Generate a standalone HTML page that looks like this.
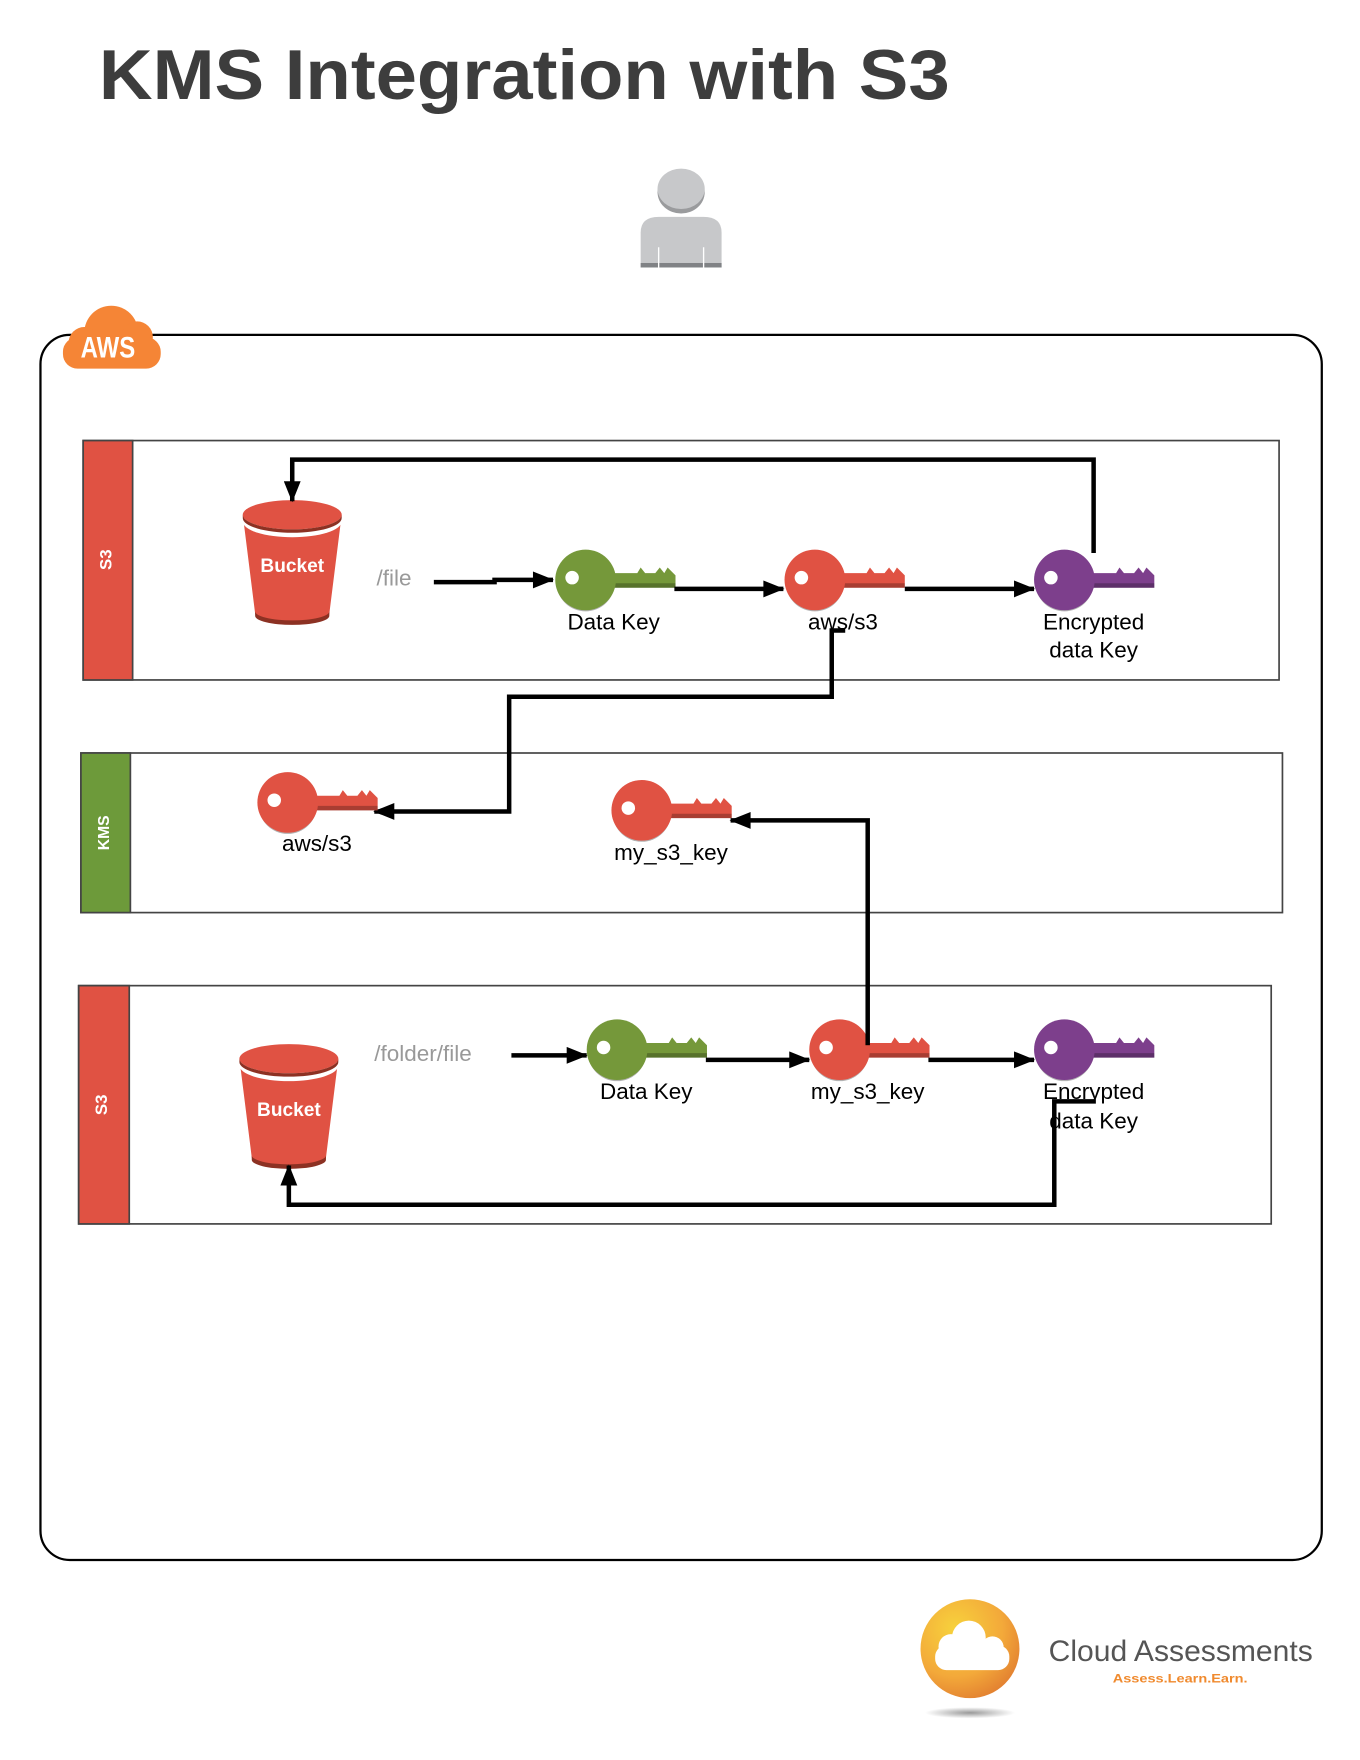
<!DOCTYPE html>
<html><head><meta charset="utf-8"><style>
html,body{margin:0;padding:0;background:#fff}
svg{display:block}
text{font-family:"Liberation Sans",sans-serif}
</style></head><body>
<svg width="1360" height="1760" viewBox="0 0 1210 1566" preserveAspectRatio="none" xmlns="http://www.w3.org/2000/svg">
<defs>
<marker id="ar" viewBox="0 0 20 16" refX="19" refY="8" markerWidth="20" markerHeight="15" orient="auto" markerUnits="userSpaceOnUse">
<path d="M0,0 L20,8 L0,16 z" fill="#000"/>
</marker>
<radialGradient id="lg" cx="0.35" cy="0.3" r="0.8"><stop offset="0" stop-color="#f7d23c"/><stop offset="0.6" stop-color="#f3a93a"/><stop offset="1" stop-color="#e07a2f"/></radialGradient>
<radialGradient id="sh" cx="0.5" cy="0.5" r="0.5"><stop offset="0" stop-color="#999"/><stop offset="1" stop-color="#fff"/></radialGradient>
<g id="keyshape">
<path d="M14,-6 L46,-6 L49,-11 L53,-6 L62,-6 L66,-11 L70,-6 L73,-11 L80,-4 L80,7 L14,7 z"/>
<path d="M20,3 L80,3 L80,7 L20,7 z" fill="#000" opacity="0.25"/>
<circle cx="0" cy="2" r="26" opacity="0.3" fill="#000"/>
</g>
</defs>

<text x="88" y="88" font-size="63" font-weight="bold" fill="#3d3d3d" textLength="757" lengthAdjust="spacingAndGlyphs">KMS Integration with S3</text>

<!-- user -->
<ellipse cx="606" cy="171" rx="21" ry="19" fill="#9a9b9d"/>
<ellipse cx="606" cy="168" rx="21" ry="18" fill="#c7c8ca"/>
<path d="M570,238 L570,207 Q570,193 586,193 L626,193 Q642,193 642,207 L642,238 z" fill="#c7c8ca"/>
<rect x="570" y="234" width="72" height="4" fill="#808285"/>
<line x1="586" y1="220" x2="586" y2="238" stroke="#fff" stroke-width="1.2"/>
<line x1="626" y1="220" x2="626" y2="238" stroke="#fff" stroke-width="1.2"/>

<!-- AWS container -->
<rect x="36" y="298" width="1140" height="1090" rx="26" fill="none" stroke="#000" stroke-width="2"/>
<g fill="#f58536">
<circle cx="99" cy="296" r="24"/><circle cx="122" cy="300" r="14"/><circle cx="75" cy="305" r="14"/>
<rect x="56" y="300" width="87" height="28" rx="13"/>
</g>
<text x="96" y="318" font-size="26" fill="#fff" text-anchor="middle" font-weight="bold" transform="translate(96 0) scale(0.82 1) translate(-96 0)">AWS</text>

<!-- lanes -->
<rect x="74" y="392" width="1064" height="213" fill="#fff" stroke="#444" stroke-width="1.5"/>
<rect x="74" y="392" width="44" height="213" fill="#e05243" stroke="#444" stroke-width="1.5"/>
<text transform="translate(99 498) rotate(-90)" font-size="15" font-weight="bold" fill="#fff" text-anchor="middle">S3</text>

<rect x="72" y="670" width="1069" height="142" fill="#fff" stroke="#444" stroke-width="1.5"/>
<rect x="72" y="670" width="44" height="142" fill="#6d9a3a" stroke="#444" stroke-width="1.5"/>
<text transform="translate(97 741) rotate(-90)" font-size="14" font-weight="bold" fill="#fff" text-anchor="middle">KMS</text>

<rect x="70" y="877" width="1061" height="212" fill="#fff" stroke="#444" stroke-width="1.5"/>
<rect x="70" y="877" width="45" height="212" fill="#e05243" stroke="#444" stroke-width="1.5"/>
<text transform="translate(95 983) rotate(-90)" font-size="15" font-weight="bold" fill="#fff" text-anchor="middle">S3</text>

<!-- buckets -->
<g id="bk1" transform="translate(260 458)">
<path d="M-44,0 L-33,88 A33,8 0 0 0 33,88 L44,0 z" fill="#e05243"/>
<path d="M-33,86 A33,8 0 0 0 33,86 L33,90 A33,8 0 0 1 -33,90 z" fill="#8c3123"/>
<ellipse cx="0" cy="6" rx="44" ry="14" fill="#fff"/>
<ellipse cx="0" cy="0" rx="44" ry="13" fill="#e05243"/>
<path d="M-44,0 A44,13 0 0 0 44,0 L44,3 A44,13 0 0 1 -44,3 z" fill="#8c3123"/>
<text x="0" y="51" font-size="17" font-weight="bold" fill="#fff" text-anchor="middle">Bucket</text>
</g>
<use href="#bk1" transform="translate(-3 484)"/>

<!-- lane 1 -->
<text x="335" y="521" font-size="20" fill="#999">/file</text>
<path d="M386,518 L440,518 L440,516 L492,516" fill="none" stroke="#000" stroke-width="4" marker-end="url(#ar)"/>
<g transform="translate(521 516)" fill="#75983a"><use href="#keyshape"/><circle r="27"/><ellipse cx="-12" cy="-2" rx="6" ry="6" fill="#fff"/></g>
<text x="546" y="560" font-size="20" text-anchor="middle">Data Key</text>
<path d="M600,524 L697,524" stroke="#000" stroke-width="4" marker-end="url(#ar)"/>
<g transform="translate(725 516)" fill="#e05243"><use href="#keyshape"/><circle r="27"/><ellipse cx="-12" cy="-2" rx="6" ry="6" fill="#fff"/></g>
<text x="750" y="560" font-size="20" text-anchor="middle">aws/s3</text>
<path d="M805,524 L920,524" stroke="#000" stroke-width="4" marker-end="url(#ar)"/>
<g transform="translate(947 516)" fill="#7d3f8c"><use href="#keyshape"/><circle r="27"/><ellipse cx="-12" cy="-2" rx="6" ry="6" fill="#fff"/></g>
<text x="973" y="560" font-size="20" text-anchor="middle">Encrypted</text>
<text x="973" y="585" font-size="20" text-anchor="middle">data Key</text>
<path d="M973,492 L973,409 L260,409 L260,446" fill="none" stroke="#000" stroke-width="4" marker-end="url(#ar)"/>
<path d="M752,561 L740,561 L740,620 L453,620 L453,722 L333,722" fill="none" stroke="#000" stroke-width="4" marker-end="url(#ar)"/>

<!-- KMS lane -->
<g transform="translate(256 714)" fill="#e05243"><use href="#keyshape"/><circle r="27"/><ellipse cx="-12" cy="-2" rx="6" ry="6" fill="#fff"/></g>
<text x="282" y="757" font-size="20" text-anchor="middle">aws/s3</text>
<g transform="translate(571 721)" fill="#e05243"><use href="#keyshape"/><circle r="27"/><ellipse cx="-12" cy="-2" rx="6" ry="6" fill="#fff"/></g>
<text x="597" y="765" font-size="20" text-anchor="middle">my_s3_key</text>
<path d="M772,912 L772,730 L650,730" fill="none" stroke="#000" stroke-width="4" marker-end="url(#ar)"/>

<!-- lane 3 -->
<text x="333" y="944" font-size="20" fill="#999">/folder/file</text>
<path d="M455,939 L522,939" stroke="#000" stroke-width="4" marker-end="url(#ar)"/>
<g transform="translate(549 934)" fill="#75983a"><use href="#keyshape"/><circle r="27"/><ellipse cx="-12" cy="-2" rx="6" ry="6" fill="#fff"/></g>
<text x="575" y="978" font-size="20" text-anchor="middle">Data Key</text>
<path d="M628,943 L720,943" stroke="#000" stroke-width="4" marker-end="url(#ar)"/>
<g transform="translate(747 934)" fill="#e05243"><use href="#keyshape"/><circle r="27"/><ellipse cx="-12" cy="-2" rx="6" ry="6" fill="#fff"/></g>
<path d="M772,912 L772,930" stroke="#000" stroke-width="4"/>
<text x="772" y="978" font-size="20" text-anchor="middle">my_s3_key</text>
<path d="M826,943 L920,943" stroke="#000" stroke-width="4" marker-end="url(#ar)"/>
<g transform="translate(947 934)" fill="#7d3f8c"><use href="#keyshape"/><circle r="27"/><ellipse cx="-12" cy="-2" rx="6" ry="6" fill="#fff"/></g>
<text x="973" y="978" font-size="20" text-anchor="middle">Encrypted</text>
<text x="973" y="1004" font-size="20" text-anchor="middle">data Key</text>
<path d="M975,980 L938,980 L938,1072 L257,1072 L257,1037" fill="none" stroke="#000" stroke-width="4" marker-end="url(#ar)"/>

<!-- logo -->
<ellipse cx="863" cy="1524" rx="40" ry="5" fill="url(#sh)"/>
<circle cx="863" cy="1467" r="44" fill="url(#lg)"/>
<g fill="#fff">
<circle cx="862" cy="1457" r="15"/><circle cx="846" cy="1465" r="11"/><circle cx="883" cy="1466" r="10"/>
<rect x="832" y="1464" width="66" height="22" rx="10"/>
</g>
<text x="933" y="1478" font-size="26" fill="#555" textLength="235" lengthAdjust="spacingAndGlyphs">Cloud Assessments</text>
<text x="990" y="1497" font-size="11" font-weight="bold" fill="#f08a2e" textLength="120" lengthAdjust="spacingAndGlyphs">Assess.Learn.Earn.</text>
</svg>
</body></html>
